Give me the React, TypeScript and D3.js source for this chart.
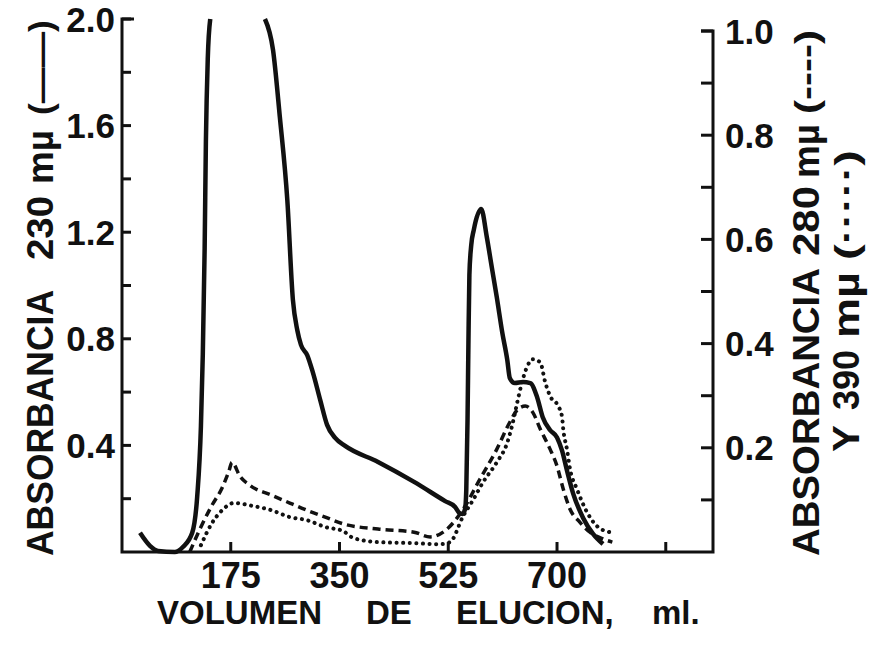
import React from "react";
import * as d3 from "d3";

// ---- data ----
// 230 mµ, left axis (gap = line leaves the top of the frame)
const vol230 = [29, 45, 58, 85, 98, 113, 121, 127, 130, 133, 135, 138, 142, null, 230, 243, 254, 266, 275, 282, 288, 298, 307, 319, 330, 343, 359, 412, 470, 520, 536, 543, 548, 552, 554, 556, 557.5, 559, 562, 566, 578, 587, 595, 603, 612, 620, 624, 632, 645, 657, 668, 677, 689, 700, 708, 716, 726, 742, 758, 774];
const abs230 = [0.072, 0.023, 0.004, 0, 0.019, 0.072, 0.208, 0.472, 0.74, 1.14, 1.54, 1.85, 2.0, null, 2.0, 1.884, 1.632, 1.321, 0.946, 0.833, 0.777, 0.739, 0.675, 0.57, 0.477, 0.428, 0.398, 0.338, 0.263, 0.191, 0.169, 0.146, 0.143, 0.161, 0.233, 0.495, 0.795, 1.04, 1.152, 1.208, 1.287, 1.182, 1.069, 0.957, 0.822, 0.72, 0.653, 0.634, 0.638, 0.634, 0.581, 0.506, 0.457, 0.43, 0.381, 0.306, 0.219, 0.128, 0.068, 0.03];
// 280 mµ, right axis (dashed)
const vol280 = [109, 127, 144, 161, 172, 177, 190, 207, 241, 270, 298, 327, 356, 412, 470, 496, 523, 549, 576, 603, 624, 637, 649, 661, 673, 689, 700, 710, 721, 737, 753, 774, 789];
const abs280 = [0, 0.048, 0.088, 0.123, 0.155, 0.172, 0.145, 0.127, 0.109, 0.094, 0.08, 0.067, 0.054, 0.044, 0.038, 0.029, 0.044, 0.082, 0.14, 0.197, 0.249, 0.274, 0.28, 0.268, 0.236, 0.197, 0.165, 0.121, 0.082, 0.057, 0.038, 0.025, 0.019];
// 390 mµ, right axis (dotted)
const vol390 = [127, 144, 161, 180, 212, 241, 270, 298, 327, 356, 372, 412, 470, 512, 528, 549, 565, 581, 603, 620, 629, 636, 642, 652, 661, 673, 681, 689, 702, 708, 710, 716, 721, 732, 748, 764, 785];
const abs390 = [0.013, 0.054, 0.08, 0.094, 0.088, 0.08, 0.067, 0.061, 0.048, 0.04, 0.027, 0.019, 0.017, 0.015, 0.019, 0.069, 0.10, 0.134, 0.172, 0.21, 0.249, 0.287, 0.318, 0.356, 0.37, 0.364, 0.326, 0.299, 0.28, 0.26, 0.236, 0.197, 0.159, 0.121, 0.077, 0.05, 0.038];

const xTicks = [175, 350, 525, 700, 875];
const xTickLabels = ["175", "350", "525", "700"];
const leftTicks = [0.2, 0.4, 0.6, 0.8, 1.0, 1.2, 1.4, 1.6, 1.8, 2.0];
const leftTickLabels = ["0.4", "0.8", "1.2", "1.6", "2.0"];
const rightTicks = [0.1, 0.2, 0.3, 0.4, 0.5, 0.6, 0.7, 0.8, 0.9, 1.0];
const rightTickLabels = ["0.2", "0.4", "0.6", "0.8", "1.0"];

const xTitleWords = ["VOLUMEN", "DE", "ELUCION,", "ml."];

const W = 888, H = 646;
const FONT = "'Liberation Sans', Arial, sans-serif";

function RotText({ x, y0, y1, text, size }: { x: number; y0: number; y1: number; text: string; size: number }) {
  const len = y0 - y1;
  return (
    <text
      transform={`translate(${x},${y0}) rotate(-90)`}
      dy="0.36em"
      fontFamily={FONT}
      fontWeight="bold"
      fontSize={size}
      textLength={len}
      lengthAdjust="spacingAndGlyphs"
      fill="#111"
    >
      {text}
    </text>
  );
}

export default function App() {
  const x = d3.scaleLinear().domain([0, 951]).range([122, 713]);
  const yL = d3.scaleLinear().domain([0, 2]).range([552, 19]);
  const yR = d3.scaleLinear().domain([0, 1]).range([552, 31]);
  const y0 = yL(0);

  const mk = (vs: (number | null)[], as: (number | null)[], ys: d3.ScaleLinear<number, number>) => {
    const pts = vs.map((v, i) => [v, as[i]] as [number | null, number | null]);
    return (
      d3
        .line<[number | null, number | null]>()
        .defined((d) => d[0] !== null && d[1] !== null)
        .x((d) => x(d[0] as number))
        .y((d) => ys(d[1] as number))
        .curve(d3.curveMonotoneX)(pts) || ""
    );
  };

  const p230 = mk(vol230, abs230, yL);
  const p280 = mk(vol280, abs280, yR);
  const p390 = mk(vol390, abs390, yR);

  const wordStarts = [157, 366, 456, 652];

  return (
    <svg width={W} height={H} style={{ position: "absolute", left: 0, top: 0, background: "#fff" }}>
      <rect width={W} height={H} fill="#fff" />
      <path d={p390} fill="none" stroke="#111" strokeWidth={4} strokeDasharray="0.1 6.5" strokeLinecap="round" />
      <path d={p280} fill="none" stroke="#111" strokeWidth={3.5} strokeDasharray="8 5" />
      <path d={p230} fill="none" stroke="#111" strokeWidth={4.5} strokeLinejoin="round" />

      <g stroke="#111" strokeWidth={3} fill="none">
        <path d={`M${x(0) + 12},${yL(2)} H${x(0)} V${y0} H${x(951)} V${yR(1)} H${x(951) - 12}`} />
        {leftTicks.map((t) => (
          <line key={"l" + t} x1={x(0)} x2={x(0) + 9} y1={yL(t)} y2={yL(t)} />
        ))}
        {rightTicks.map((t) => (
          <line key={"r" + t} x1={x(951)} x2={x(951) - 12} y1={yR(t)} y2={yR(t)} />
        ))}
        {xTicks.map((t) => (
          <line key={"x" + t} x1={x(t)} x2={x(t)} y1={y0} y2={y0 - 10} />
        ))}
      </g>

      <g fontFamily={FONT} fontWeight="bold" fontSize={35} fill="#111">
        {leftTickLabels.map((s) => (
          <text key={s} x={115} y={yL(+s)} dy="0.36em" textAnchor="end">{s}</text>
        ))}
        {rightTickLabels.map((s) => (
          <text key={s} x={725} y={yR(+s)} dy="0.36em" textAnchor="start">{s}</text>
        ))}
      </g>
      <g fontFamily={FONT} fontWeight="bold" fontSize={36} fill="#111">
        {xTickLabels.map((s) => (
          <text key={s} x={x(+s)} y={575} dy="0.36em" textAnchor="middle">{s}</text>
        ))}
      </g>

      <g fontFamily={FONT} fontWeight="bold" fontSize={33} fill="#111">
        {xTitleWords.map((w, i) => (
          <text key={w} x={wordStarts[i]} y={612} dy="0.36em">
            {w}
          </text>
        ))}
      </g>

      <RotText x={40} y0={556} y1={290} text="ABSORBANCIA" size={36} />
      <RotText x={40} y0={260} y1={196} text="230" size={36} />
      <RotText x={40} y0={184} y1={130} text="mµ" size={36} />
      <RotText x={40} y0={115} y1={20} text="(——)" size={34} />

      <RotText x={806} y0={556} y1={268} text="ABSORBANCIA" size={36} />
      <RotText x={806} y0={256} y1={186} text="280" size={36} />
      <RotText x={806} y0={178} y1={124} text="mµ" size={36} />
      <RotText x={806} y0={114} y1={30} text="(----)" size={34} />

      <RotText x={846} y0={452} y1={425} text="Y" size={36} />
      <RotText x={846} y0={410} y1={350} text="390" size={36} />
      <RotText x={846} y0={338} y1={272} text="mµ" size={36} />
      <RotText x={846} y0={260} y1={150} text="(·····)" size={34} />
    </svg>
  );
}
